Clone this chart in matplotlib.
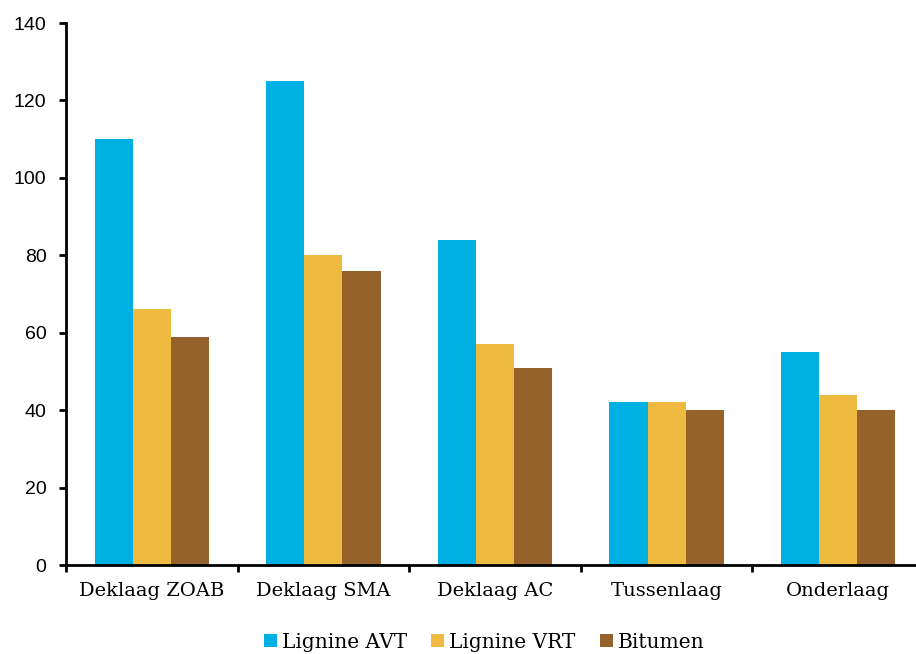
import numpy as np
import matplotlib.pyplot as plt
from matplotlib.ticker import FixedLocator, NullFormatter

# Asphalt layer types and values per binder
categories = ["Deklaag ZOAB", "Deklaag SMA", "Deklaag AC", "Tussenlaag", "Onderlaag"]
lignine_avt = [110, 125, 84, 42, 55]
lignine_vrt = [66, 80, 57, 42, 44]
bitumen = [59, 76, 51, 40, 40]

series = [("Lignine AVT", lignine_avt, "#00B0E3"),
          ("Lignine VRT", lignine_vrt, "#EEBB40"),
          ("Bitumen", bitumen, "#94622A")]

fig = plt.figure(figsize=(9.16, 6.54), dpi=100)
ax = fig.add_axes([66 / 916, 89 / 654, 858 / 916, 542 / 654])

x = np.arange(len(categories))
w = 0.222
for i, (name, vals, col) in enumerate(series):
    ax.bar(x + (i - 1) * w, vals, width=w, color=col, label=name, zorder=2)

ax.set_xlim(-0.5, len(categories) - 0.5)
ax.set_ylim(0, 140)
ax.set_yticks(range(0, 141, 20))
ax.set_xticks(x)
ax.set_xticklabels(categories, family="DejaVu Serif", fontsize=14)
ax.tick_params(axis="x", which="major", length=0, pad=12)
ax.xaxis.set_minor_locator(FixedLocator(np.arange(-0.5, len(categories), 1)))
ax.xaxis.set_minor_formatter(NullFormatter())
ax.tick_params(axis="x", which="minor", length=5, width=2, direction="out")
ax.tick_params(axis="y", length=5, width=2, labelsize=14, pad=9)
for lbl in ax.get_yticklabels():
    lbl.set_family("Liberation Sans")

for s in ["top", "right"]:
    ax.spines[s].set_visible(False)
for s in ["left", "bottom"]:
    ax.spines[s].set_linewidth(2)

fig.legend(*ax.get_legend_handles_labels(), loc="center",
           bbox_to_anchor=(484 / 916, 1 - 642 / 654), bbox_transform=fig.transFigure,
           ncol=3, frameon=False, prop={"family": "DejaVu Serif", "size": 14.5},
           handlelength=0.65, handleheight=0.65, handletextpad=0.25, columnspacing=1.2,
           borderpad=0)

fig.savefig("out.png", dpi=100)
